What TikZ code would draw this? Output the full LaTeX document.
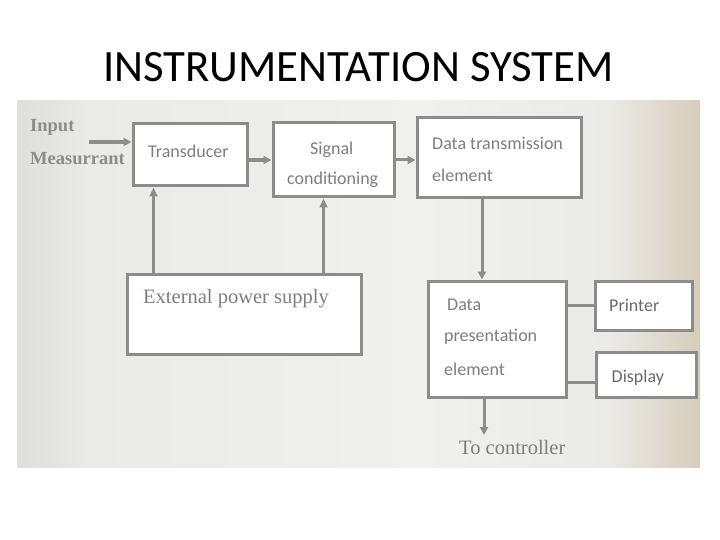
\documentclass[tikz,border=0pt]{standalone}
\usepackage{fontspec}
\setmainfont{Liberation Serif}
\newfontfamily\calfont{Carlito}
\usetikzlibrary{arrows.meta}
\definecolor{boxgray}{HTML}{8C8C8C}
\definecolor{txtgray}{HTML}{7E7E7E}
\definecolor{darkgray2}{HTML}{6A6A6A}
\definecolor{paper}{HTML}{EAEAE6}
\definecolor{paperlight}{HTML}{F0F0ED}
\definecolor{paperleft}{HTML}{DEDEDA}
\definecolor{beige}{HTML}{D6CDBB}
\tikzset{
  box/.style={draw=boxgray, line width=3pt, fill=white, inner sep=0pt},
  boxtxt/.style={font=\calfont\fontsize{18}{20}\selectfont, text=txtgray, inner sep=0pt, anchor=west},
  sertxt/.style={font=\fontsize{20.5}{22}\selectfont, text=txtgray, inner sep=0pt},
  conn/.style={draw=boxgray, line width=3pt},
  arr/.style={draw=boxgray, line width=3pt, -{Triangle[length=8pt,width=8pt]}},
  varr/.style={draw=boxgray, line width=2.2pt, -{Triangle[length=9pt,width=8pt]}}
}
\begin{document}
\begin{tikzpicture}[x=1pt,y=-1pt]
\useasboundingbox (0,0) rectangle (720,540);
% title
\node[font=\calfont\fontsize{44.8}{48}\selectfont, inner sep=0pt] (title) at (358.5,67) {INSTRUMENTATION SYSTEM};
% photo background
\fill[paper] (17,101) rectangle (700,467);
\shade[left color=paperleft, right color=paper] (17,101) rectangle (90,467);
\shade[left color=paper, right color=paperlight] (90,101) rectangle (420,467);
\shade[left color=paperlight, right color=paper] (420,101) rectangle (610,467);
\shade[left color=paper, right color=beige] (610,101) rectangle (700,467);
% boxes
\node[box, minimum width=114pt, minimum height=62pt] (td) at (190,155) {};
\node[box, minimum width=121pt, minimum height=74pt] (sc) at (333.5,160) {};
\node[box, minimum width=164pt, minimum height=80pt] (dt) at (499,158) {};
\node[box, minimum width=234pt, minimum height=80pt] (eps) at (244,314) {};
\node[box, minimum width=138pt, minimum height=116pt] (dp) at (497,339) {};
\node[box, minimum width=97pt, minimum height=49pt] (pr) at (643.5,305.5) {};
\node[box, minimum width=100pt, minimum height=45pt] (dsp) at (646,374.5) {};
% texts
\node[boxtxt] (tdt) at (148,151) {Transducer};
\node[boxtxt] (sct1) at (310,150) {Signal};
\node[boxtxt] (sct2) at (287,180) {conditioning};
\node[boxtxt] (dtt1) at (432,143) {Data transmission};
\node[boxtxt] (dtt2) at (432,175) {element};
\node[boxtxt] (dpt1) at (447,305) {Data};
\node[boxtxt] (dpt2) at (444,337) {presentation};
\node[boxtxt] (dpt3) at (444,369) {element};
\node[boxtxt, text=darkgray2] (prt) at (609,305) {Printer};
\node[boxtxt, text=darkgray2] (dspt) at (611.5,378) {Display};
\node[sertxt, font=\bfseries\fontsize{18.5}{20}\selectfont, anchor=west, text=boxgray] (inp1) at (30,127) {Input};
\node[sertxt, font=\bfseries\fontsize{18.5}{20}\selectfont, anchor=west, text=boxgray] (inp2) at (30,159) {Measurrant};
\node[sertxt, anchor=west] (epst) at (143,299) {External power supply};
\node[sertxt, anchor=west] (ctlt) at (459,447) {To controller};
\coordinate (ctl) at (484,435);
% connectors
\draw[arr, line width=4.5pt] ([xshift=-43pt,yshift=13pt]td.west) -- ([yshift=13pt]td.west);
\draw[arr, line width=4pt] (td.east |- sc.west) -- (sc.west);
\draw[arr] (sc.east) -- (sc.east -| dt.west);
\draw[arr] ([xshift=-17pt]dt.south) -- ([xshift=-17pt]dt.south |- dp.north);
\draw[varr] ([xshift=28pt]eps.north west) -- ([xshift=28pt]eps.north west |- td.south);
\draw[varr] ([xshift=198pt]eps.north west) -- ([xshift=198pt]eps.north west |- sc.south);
\draw[conn] (pr.west -| dp.east) -- (pr.west);
\draw[conn] ([yshift=-7.5pt]dsp.west -| dp.east) -- ([yshift=-7.5pt]dsp.west);
\draw[arr] (dp.south -| ctl) -- (ctl);
\end{tikzpicture}
\end{document}
